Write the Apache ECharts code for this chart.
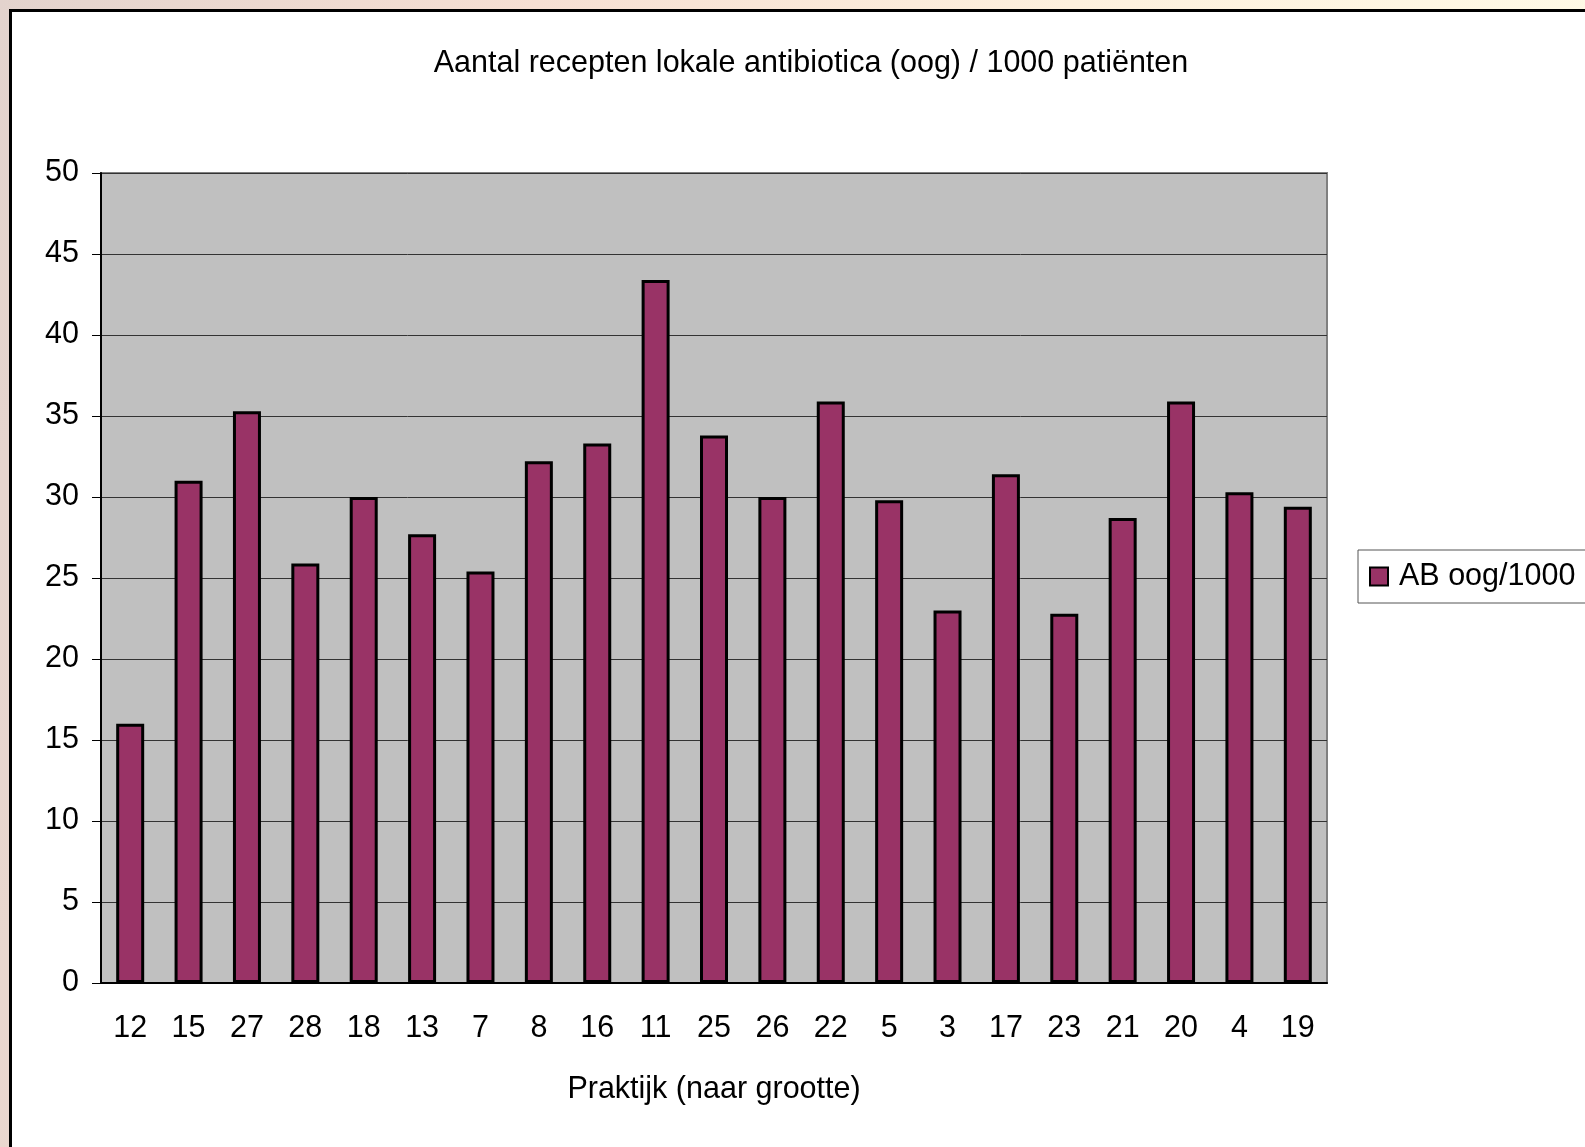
<!DOCTYPE html>
<html>
<head>
  <meta charset="utf-8" />
  <title>Aantal recepten lokale antibiotica</title>
  <script src="https://cdn.jsdelivr.net/npm/echarts@6"></script>
  <style>
    html, body {
      height: 100%;
      margin: 0;
      padding: 0;
      overflow: hidden;
      background: linear-gradient(100deg, #e3d3cd 0%, #f6dfd3 30%, #fdf0dd 60%, #fffde9 100%);
    }
    #frame {
      position: absolute;
      left: 9px;
      top: 9px;
      width: 1700px;
      height: 1300px;
      border: 3px solid #000;
      background: #fff;
    }
    #main {
      position: absolute;
      left: 0;
      top: 0;
      width: 1585px;
      height: 1147px;
    }
  </style>
</head>
<body>
  <div id="frame"></div>
  <div id="main"></div>

  <script type="text/javascript">
    const practices = ['12', '15', '27', '28', '18', '13', '7', '8', '16', '11', '25',
                       '26', '22', '5', '3', '17', '23', '21', '20', '4', '19'];
    const abOog = [16.0, 31.0, 35.3, 25.9, 30.0, 27.7, 25.4, 32.2, 33.3, 43.4, 33.8,
                   30.0, 35.9, 29.8, 23.0, 31.4, 22.8, 28.7, 35.9, 30.3, 29.4];

    const font = 'Liberation Sans, Arial, sans-serif';
    const fs = 30.5;
    const chart = echarts.init(document.getElementById('main'), null, { renderer: 'canvas' });

    chart.setOption({
      backgroundColor: 'transparent',
      animation: false,
      title: {
        text: 'Aantal recepten lokale antibiotica (oog) / 1000 patiënten',
        left: 806,
        top: 43,
        textAlign: 'center',
        textStyle: { fontFamily: font, fontSize: fs, fontWeight: 'normal', color: '#000' }
      },
      legend: {
        left: 1358,
        top: 550,
        orient: 'vertical',
        padding: [11, 30, 11, 11],
        backgroundColor: '#fff',
        borderColor: '#555',
        borderWidth: 1,
        itemWidth: 18,
        itemHeight: 18,
        icon: 'rect',
        itemStyle: { borderColor: '#000', borderWidth: 2 },
        textStyle: { fontFamily: font, fontSize: fs, color: '#000', padding: [0, 0, 0, 6] },
        data: ['AB oog/1000']
      },
      grid: {
        left: 101,
        top: 173,
        right: 258,
        bottom: 164,
        show: true,
        backgroundColor: '#c0c0c0',
        borderColor: '#808080',
        borderWidth: 2
      },
      xAxis: {
        type: 'category',
        data: practices,
        name: 'Praktijk (naar grootte)',
        nameLocation: 'middle',
        nameGap: 91,
        nameTextStyle: { fontFamily: font, fontSize: fs, color: '#000' },
        axisLine: { lineStyle: { color: '#000', width: 2 } },
        axisTick: { length: 9, lineStyle: { color: '#000' } },
        axisLabel: { margin: 30, fontFamily: font, fontSize: fs, color: '#000' }
      },
      yAxis: {
        type: 'value',
        min: 0,
        max: 50,
        interval: 5,
        axisLine: { show: true, lineStyle: { color: '#000', width: 2 } },
        axisTick: { show: true, length: 9, lineStyle: { color: '#000' } },
        axisLabel: { margin: 22, fontFamily: font, fontSize: fs, color: '#000' },
        splitLine: { lineStyle: { color: '#333', width: 1 } }
      },
      series: [{
        name: 'AB oog/1000',
        type: 'bar',
        data: abOog,
        barWidth: 28,
        itemStyle: { color: '#993366', borderColor: '#000', borderWidth: 3 }
      }]
    });
  </script>
</body>
</html>
